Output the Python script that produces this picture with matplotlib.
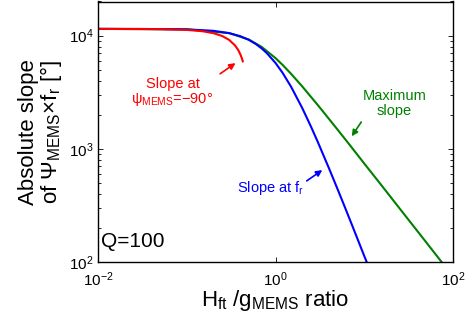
import matplotlib
matplotlib.use("Agg")
import matplotlib.pyplot as plt
from matplotlib.ticker import LogLocator, NullLocator

plt.rcParams['font.family'] = ['Liberation Sans', 'DejaVu Sans']
plt.rcParams['mathtext.default'] = 'regular'

# ---- data ----
x_fr = [0.01, 0.03, 0.1, 0.2, 0.3, 0.4, 0.5, 0.6, 0.7, 0.8, 1.0, 1.2, 1.5, 2.0, 2.5,
        3.0, 4.0, 5.0, 6.0, 7.0, 8.0, 10.0, 11.0]
y_fr = [11458, 11449, 11346, 11018, 10513, 9878, 9167, 8426, 7691, 6987, 5730, 4696,
        3526, 2292, 1581, 1146, 674, 441, 310, 229, 176, 113, 94]

x_max = [0.01, 0.1, 0.3, 0.5, 0.7, 1.0, 1.2, 1.5, 2.0, 3.0, 5.0, 7.0, 10.0, 15.0,
         20.0, 30.0, 50.0, 80.0]
y_max = [11458, 11350, 10520, 9236, 7930, 6326, 5514, 4590, 3557, 2431, 1478, 1060,
         741, 496, 372, 248, 149, 93]

x_90 = [0.01, 0.05, 0.1, 0.15, 0.2, 0.25, 0.3, 0.35, 0.38, 0.4, 0.415, 0.428]
y_90 = [11457, 11402, 11228, 10931, 10502, 9924, 9167, 8183, 7453, 6875, 6400, 5924]

x_ticks = [1e-2, 1e0, 1e2]
y_lim = [1e2, 2e4]
x_lim = [1e-2, 1e2]

fig = plt.figure(figsize=(4.68, 3.25), dpi=100)
ax = fig.add_axes([98/468, 1 - 262/325, (453-98)/468, (262-1.5)/325])

green = (0, 0.5, 0)
ax.plot(x_max, y_max, color=green, lw=1.5)
ax.plot(x_fr, y_fr, color=(0, 0, 1), lw=1.5)
ax.plot(x_90, y_90, color=(1, 0, 0), lw=1.5)

ax.set_xscale('log')
ax.set_yscale('log')
ax.set_xlim(x_lim)
ax.set_ylim(y_lim)
ax.set_xticks(x_ticks)
ax.xaxis.set_minor_locator(NullLocator())
ax.yaxis.set_major_locator(LogLocator(base=10))
ax.yaxis.set_minor_locator(LogLocator(base=10, subs=range(2, 10)))
ax.tick_params(which='both', direction='in', top=True, right=True, labelsize=11, pad=3)
ax.tick_params(axis='x', which='major', pad=6)
ax.tick_params(which='major', length=3.5, width=0.6)
ax.tick_params(which='minor', length=2, width=0.6)
for s in ax.spines.values():
    s.set_linewidth(1.0)

ax.set_xlabel('H$_{ft}$ /g$_{MEMS}$ ratio', fontsize=16, labelpad=-1)
ax.set_ylabel('Absolute slope\nof \u03a8$_{MEMS}$\u00d7f$_{r}$ [\u00b0]', fontsize=16,
              labelpad=4, linespacing=0.95)

ax.text(0.008, 0.08, 'Q=100', transform=ax.transAxes, fontsize=15, va='center', ha='left')

ax.annotate('', xy=(0.376, 5900), xytext=(0.224, 4450),
            arrowprops=dict(arrowstyle='-|>', color='red', lw=1.2, mutation_scale=9))
ax.text(0.069, 3150, 'Slope at\n\u03c8$_{MEMS}$=\u221290\u00b0', color='red', fontsize=10.5,
        ha='center', va='center', linespacing=1.0)

ax.annotate('', xy=(6.94, 1230), xytext=(9.63, 1807),
            arrowprops=dict(arrowstyle='-|>', color=green, lw=1.2, mutation_scale=9))
ax.text(21.9, 2520, 'Maximum\nslope', color=green, fontsize=10.5,
        ha='center', va='center', linespacing=1.05)

ax.annotate('', xy=(3.57, 670), xytext=(2.12, 504),
            arrowprops=dict(arrowstyle='-|>', color='blue', lw=1.2, mutation_scale=9))
ax.text(0.889, 446, 'Slope at f$_{r}$', color='blue', fontsize=10.5,
        ha='center', va='center')

fig.savefig('out.png', dpi=100)
